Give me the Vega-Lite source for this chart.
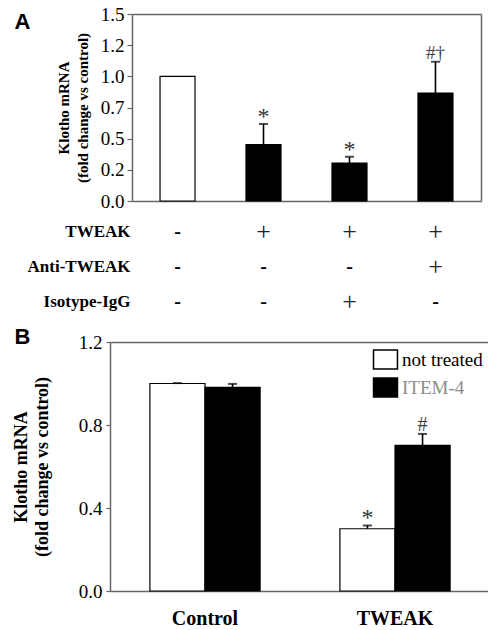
{
  "$schema": "https://vega.github.io/schema/vega-lite/v6.json",
  "background": "white",
  "padding": {"left": 12, "top": 5, "right": 0, "bottom": 0},
  "config": {
    "font": "Liberation Serif",
    "view": {"stroke": null},
    "axis": {"grid": false, "labelColor": "black", "titleColor": "black", "domainColor": "#666", "domainWidth": 1.5, "tickColor": "#666", "tickWidth": 1.2, "labelFont": "Liberation Serif", "titleFont": "Liberation Serif"}
  },
  "datasets": {
    "a": [
      {"cond": "c1", "grp": "ctrl", "value": 1.0},
      {"cond": "c2", "grp": "tweak", "value": 0.452, "upper": 0.618, "sig": "*"},
      {"cond": "c3", "grp": "tweak", "value": 0.305, "upper": 0.355, "sig": "*"},
      {"cond": "c4", "grp": "tweak", "value": 0.866, "upper": 1.117, "sig": "#†"}
    ],
    "tbl": [
      {"cond": "c1", "row": "TWEAK", "sign": "-"},
      {"cond": "c2", "row": "TWEAK", "sign": "+"},
      {"cond": "c3", "row": "TWEAK", "sign": "+"},
      {"cond": "c4", "row": "TWEAK", "sign": "+"},
      {"cond": "c1", "row": "Anti-TWEAK", "sign": "-"},
      {"cond": "c2", "row": "Anti-TWEAK", "sign": "-"},
      {"cond": "c3", "row": "Anti-TWEAK", "sign": "-"},
      {"cond": "c4", "row": "Anti-TWEAK", "sign": "+"},
      {"cond": "c1", "row": "Isotype-IgG", "sign": "-"},
      {"cond": "c2", "row": "Isotype-IgG", "sign": "-"},
      {"cond": "c3", "row": "Isotype-IgG", "sign": "+"},
      {"cond": "c4", "row": "Isotype-IgG", "sign": "-"}
    ],
    "b": [
      {"group": "Control", "treat": "not treated", "value": 1.0, "upper": 1.002},
      {"group": "Control", "treat": "ITEM-4", "value": 0.981, "upper": 0.998},
      {"group": "TWEAK", "treat": "not treated", "value": 0.300, "upper": 0.316, "sig": "*"},
      {"group": "TWEAK", "treat": "ITEM-4", "value": 0.702, "upper": 0.757, "sig": "#"}
    ]
  },
  "vconcat": [
    {
      "vconcat": [
        {
          "width": 371,
          "height": 187,
          "data": {"name": "a"},
          "encoding": {
            "x": {"field": "cond", "type": "nominal", "sort": ["c1", "c2", "c3", "c4"], "scale": {"range": [22, 371], "paddingInner": 0.593, "paddingOuter": 0.326}, "axis": null}
          },
          "layer": [
            {
              "mark": {"type": "bar", "stroke": "black", "strokeWidth": 1.2},
              "encoding": {
                "x": {"field": "cond", "type": "nominal", "sort": ["c1", "c2", "c3", "c4"], "scale": {"range": [22, 371], "paddingInner": 0.593, "paddingOuter": 0.326}, "axis": {"labels": false, "ticks": false, "title": null}},
                "y": {"field": "value", "type": "quantitative", "scale": {"domain": [0, 1.5], "nice": false},
                  "axis": {"offset": -22, "values": [0, 0.25, 0.5, 0.75, 1, 1.25, 1.5], "labelExpr": "format(floor(datum.value*10+0.001)/10, '.1f')", "title": ["Klotho mRNA", "(fold change vs control)"], "titleFontSize": 15, "titleFontWeight": "bold", "titleLineHeight": 19, "titlePadding": 10, "labelFontSize": 19, "tickSize": 5, "labelPadding": 3}},
                "fill": {"field": "grp", "type": "nominal", "scale": {"domain": ["ctrl", "tweak"], "range": ["white", "black"]}, "legend": null}
              }
            },
            {
              "transform": [{"filter": "isValid(datum.upper)"}],
              "mark": {"type": "rule", "color": "black", "strokeWidth": 1.6},
              "encoding": {
                "y": {"field": "value", "type": "quantitative", "scale": {"domain": [0, 1.5], "nice": false}, "axis": {"orient": "right", "labels": false, "ticks": false, "title": null}},
                "y2": {"field": "upper"}
              }
            },
            {
              "transform": [{"filter": "isValid(datum.upper)"}],
              "mark": {"type": "tick", "color": "black", "size": 9, "thickness": 2},
              "encoding": {
                "x": {"field": "cond", "type": "nominal", "sort": ["c1", "c2", "c3", "c4"], "scale": {"range": [22, 371], "paddingInner": 0.593, "paddingOuter": 0.326}, "axis": {"orient": "top", "labels": false, "ticks": false, "title": null}},
                "y": {"field": "upper", "type": "quantitative", "scale": {"domain": [0, 1.5], "nice": false},
                  "axis": {"orient": "left", "labels": false, "ticks": false, "domain": false, "title": "A", "titleX": -96, "titleY": 14, "titleAngle": 0, "titleAlign": "left", "titleBaseline": "alphabetic", "titleFont": "Liberation Sans", "titleFontWeight": "bold", "titleFontSize": 22}}
              }
            },
            {
              "transform": [{"filter": "datum.sig == '*'"}],
              "mark": {"type": "text", "baseline": "alphabetic", "dy": 0, "fontSize": 24, "color": "#333"},
              "encoding": {"y": {"field": "upper", "type": "quantitative", "scale": {"domain": [0, 1.5], "nice": false}, "axis": null}, "text": {"field": "sig"}}
            },
            {
              "transform": [{"filter": "isValid(datum.sig) && datum.sig != '*'"}],
              "mark": {"type": "text", "baseline": "alphabetic", "dy": -3, "fontSize": 19, "color": "#444"},
              "encoding": {"y": {"field": "upper", "type": "quantitative", "scale": {"domain": [0, 1.5], "nice": false}, "axis": null}, "text": {"field": "sig"}}
            }
          ],
          "resolve": {"axis": {"x": "independent", "y": "independent"}}
        },
        {
          "width": 371,
          "height": 106,
          "data": {"name": "tbl"},
          "encoding": {
            "x": {"field": "cond", "type": "nominal", "sort": ["c1", "c2", "c3", "c4"], "scale": {"type": "band", "range": [22, 371], "paddingInner": 0.593, "paddingOuter": 0.326}, "axis": null},
            "y": {"field": "row", "type": "nominal", "sort": ["TWEAK", "Anti-TWEAK", "Isotype-IgG"], "scale": {"type": "band", "paddingInner": 0, "paddingOuter": 0},
              "axis": {"offset": -22, "title": null, "domain": false, "ticks": false, "labelFontWeight": "bold", "labelFontSize": 17, "labelPadding": 2}},
            "text": {"field": "sign"}
          },
          "layer": [
            {"transform": [{"filter": "datum.sign == '+'"}], "mark": {"type": "text", "fontSize": 26, "baseline": "middle", "color": "#222"}},
            {"transform": [{"filter": "datum.sign == '-'"}], "mark": {"type": "text", "fontSize": 20, "fontWeight": "bold", "baseline": "middle", "color": "black"}}
          ]
        }
      ],
      "spacing": 3
    },
    {
      "width": 380,
      "height": 249,
      "data": {"name": "b"},
      "encoding": {
        "x": {"field": "group", "type": "nominal", "sort": ["Control", "TWEAK"], "scale": {"paddingInner": 0.42, "paddingOuter": 0.21}, "axis": null},
        "xOffset": {"field": "treat", "type": "nominal", "sort": ["not treated", "ITEM-4"], "scale": {"paddingInner": 0, "paddingOuter": 0}}
      },
      "layer": [
        {
          "mark": {"type": "bar", "stroke": "black", "strokeWidth": 1.2},
          "encoding": {
            "x": {"field": "group", "type": "nominal", "sort": ["Control", "TWEAK"], "scale": {"paddingInner": 0.42, "paddingOuter": 0.21},
              "axis": {"title": null, "ticks": false, "labelAngle": 0, "labelFontSize": 20, "labelFontWeight": "bold", "labelPadding": 17}},
            "y": {"field": "value", "type": "quantitative", "scale": {"domain": [0, 1.2], "nice": false},
              "axis": {"values": [0, 0.4, 0.8, 1.2], "format": ".1f", "title": ["Klotho mRNA", "(fold change vs control)"], "titleFontSize": 18, "titleFontWeight": "bold", "titleLineHeight": 21, "titlePadding": 27, "labelFontSize": 19, "tickSize": 4, "labelPadding": 4}},
            "fill": {"field": "treat", "type": "nominal", "sort": ["not treated", "ITEM-4"], "scale": {"domain": ["not treated", "ITEM-4"], "range": ["white", "black"]},
              "legend": {"title": null, "orient": "top-right", "offset": 7, "padding": 0, "symbolType": "M-1.26,-1H1.26V1H-1.26Z", "symbolSize": 361, "symbolStrokeColor": "black", "symbolStrokeWidth": 1.5, "labelFontSize": 19, "labelFont": "Liberation Serif", "labelOffset": 6, "rowPadding": 3,
                "encode": {"labels": {"update": {"fill": {"signal": "datum.label === 'ITEM-4' ? '#8c8c8c' : 'black'"}}}}}}
          }
        },
        {
          "mark": {"type": "rule", "color": "black", "strokeWidth": 1.6},
          "encoding": {
            "y": {"field": "value", "type": "quantitative", "scale": {"domain": [0, 1.2], "nice": false},
              "axis": {"orient": "left", "labels": false, "ticks": false, "domain": false, "title": "B", "titleX": -96, "titleY": 1, "titleAngle": 0, "titleAlign": "left", "titleBaseline": "alphabetic", "titleFont": "Liberation Sans", "titleFontWeight": "bold", "titleFontSize": 22}},
            "y2": {"field": "upper"}
          }
        },
        {
          "mark": {"type": "tick", "color": "black", "size": 9, "thickness": 2},
          "encoding": {
            "x": {"field": "group", "type": "nominal", "sort": ["Control", "TWEAK"], "scale": {"paddingInner": 0.42, "paddingOuter": 0.21}, "axis": {"orient": "top", "labels": false, "ticks": false, "title": null}},
            "y": {"field": "upper", "type": "quantitative", "scale": {"domain": [0, 1.2], "nice": false}, "axis": null}
          }
        },
        {
          "transform": [{"filter": "datum.sig == '*'"}],
          "mark": {"type": "text", "baseline": "alphabetic", "dy": 0, "fontSize": 24, "color": "#333"},
          "encoding": {"y": {"field": "upper", "type": "quantitative", "scale": {"domain": [0, 1.2], "nice": false}, "axis": null}, "text": {"field": "sig"}}
        },
        {
          "transform": [{"filter": "datum.sig == '#'"}],
          "mark": {"type": "text", "baseline": "alphabetic", "dy": -3, "fontSize": 20, "color": "#444"},
          "encoding": {"y": {"field": "upper", "type": "quantitative", "scale": {"domain": [0, 1.2], "nice": false}, "axis": null}, "text": {"field": "sig"}}
        }
      ],
      "resolve": {"axis": {"x": "independent", "y": "independent"}}
    }
  ],
  "spacing": 5,
  "resolve": {"scale": {"fill": "independent"}, "legend": {"fill": "independent"}}
}
